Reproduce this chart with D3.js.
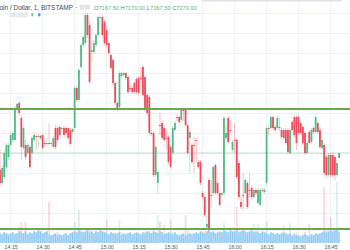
<!DOCTYPE html>
<html>
<head>
<meta charset="utf-8">
<script src="https://cdn.jsdelivr.net/npm/d3@7"></script>
<style>
  html, body { margin: 0; padding: 0; background: #ffffff; }
  svg { display: block; font-family: "Liberation Sans", Arial, sans-serif; }
</style>
</head>
<body>
<div id="dataviz"></div>
<script>
"use strict";

// 1 minute candles, BITSTAMP BTC/USD, first candle at 14:10
var startTime = "14:10";
var opens = [7161.5, 7155, 7158, 7163, 7168, 7174, 7176.5, 7176.5, 7191.5, 7195,
    7187.5, 7172.5, 7174, 7170, 7173, 7170, 7176.5, 7178.5, 7178, 7178.5,
    7179, 7175, 7174.5, 7175, 7174.5, 7173, 7182.5, 7182.5, 7183, 7182,
    7182.5, 7182.5, 7182.5, 7181.5, 7180.5, 7182.5, 7202.5, 7196.5, 7213, 7224,
    7225, 7239, 7234, 7220.5, 7220.5, 7224, 7229, 7237.5, 7238, 7235.5,
    7231.5, 7225, 7219, 7216.5, 7205, 7195, 7193, 7208.5, 7209, 7210,
    7208, 7202.5, 7202.5, 7205, 7207, 7207.5, 7207.5, 7213, 7208, 7199,
    7198, 7180, 7180, 7159, 7155, 7184, 7185, 7182.5, 7177.5, 7178,
    7173, 7170, 7181.5, 7188, 7188, 7186.5, 7191.5, 7191.5, 7184, 7177.5,
    7174, 7174, 7176.5, 7165.5, 7165.5, 7150, 7148, 7133, 7156.5, 7149,
    7150, 7164, 7155, 7150, 7149, 7150, 7177.5, 7187.5, 7181.5, 7171.5,
    7176.5, 7176.5, 7165, 7145.5, 7149, 7150, 7155, 7151.5, 7152.5, 7148,
    7151.5, 7145, 7144, 7151.5, 7150.5, 7155, 7182.5, 7182.5, 7188, 7183,
    7182.5, 7183, 7181.5, 7181.5, 7181.5, 7181.5, 7170, 7185.5, 7188, 7188,
    7188, 7185, 7183, 7180, 7170, 7180.5, 7175.5, 7182.5, 7180.5, 7185,
    7181.5, 7172.5, 7174, 7168, 7159, 7169, 7169, 7168, 7159, 7167.5];
var highs = [7171.5, 7164, 7171.5, 7175, 7175, 7180, 7181, 7193.5, 7195, 7196,
    7189, 7183.5, 7176.5, 7175, 7174, 7178.5, 7180, 7179.5, 7179.5, 7179,
    7179.5, 7176.5, 7177.5, 7185, 7175.5, 7178.5, 7184, 7183.5, 7184, 7183.5,
    7183.5, 7183.5, 7183, 7182.5, 7182.5, 7203.5, 7203.5, 7212.5, 7225, 7229,
    7240, 7240, 7236.5, 7226.5, 7226.5, 7230, 7239, 7239, 7239, 7236.5,
    7232.5, 7226, 7220, 7217.5, 7206, 7196, 7211, 7210.5, 7210.5, 7210.5,
    7209, 7205, 7203.5, 7206, 7208, 7208.5, 7213, 7214, 7209, 7200,
    7199, 7181.5, 7181, 7174, 7161.5, 7190, 7186, 7183.5, 7181.5, 7179,
    7174, 7183.5, 7186, 7189.5, 7189, 7192.5, 7192.5, 7192.5, 7185, 7181.5,
    7175, 7178, 7177.5, 7166.5, 7166.5, 7151, 7149, 7139, 7157.5, 7156.5,
    7164, 7165, 7156, 7151, 7150.5, 7188.5, 7184, 7188.5, 7186.5, 7176.5,
    7185, 7177.5, 7166, 7148, 7160, 7157.5, 7156, 7160, 7153.5, 7152.5,
    7152.5, 7152.5, 7152.5, 7152.5, 7152.5, 7183.5, 7184, 7189, 7189, 7184,
    7188.5, 7187.5, 7182.5, 7182.5, 7182.5, 7182.5, 7182.5, 7186.5, 7189, 7189,
    7189, 7186, 7184, 7181, 7176, 7181.5, 7182.5, 7183.5, 7189, 7186,
    7182.5, 7177.5, 7175, 7169, 7170, 7170, 7170, 7169, 7166.5, 7170];
var lows = [7154, 7154, 7157, 7162, 7166.5, 7173, 7175.5, 7175.5, 7190.5, 7189,
    7166.5, 7171.5, 7166.5, 7169, 7162, 7168.5, 7175.5, 7171.5, 7172.5, 7176.5,
    7171.5, 7173, 7173.5, 7174, 7173.5, 7172, 7172, 7175.5, 7178, 7180.5,
    7178, 7179, 7176.5, 7173.5, 7179.5, 7181.5, 7195.5, 7195.5, 7212, 7223,
    7224, 7227.5, 7204.5, 7215.5, 7219.5, 7223, 7228, 7235.5, 7228, 7224,
    7223, 7219, 7211.5, 7204, 7194, 7190.5, 7192, 7207.5, 7208, 7206.5,
    7199.5, 7200.5, 7199.5, 7199.5, 7199.5, 7199, 7203, 7198, 7190.5, 7189,
    7179, 7178.5, 7158, 7158, 7150, 7179, 7176.5, 7175.5, 7171.5, 7164.5,
    7162, 7169, 7180.5, 7186, 7184.5, 7185.5, 7186, 7183, 7169, 7160,
    7164.5, 7160, 7165.5, 7162, 7154, 7147, 7138, 7132, 7131, 7143,
    7148.5, 7149, 7149, 7143, 7148, 7149, 7176.5, 7174.5, 7180, 7170.5,
    7170, 7157, 7147, 7142, 7141.5, 7149, 7142, 7148, 7147, 7147,
    7149, 7144, 7143, 7150.5, 7149.5, 7154, 7179, 7181.5, 7181.5, 7180.5,
    7181.5, 7181, 7177, 7176.5, 7174, 7169.5, 7169, 7180.5, 7178, 7171.5,
    7179, 7179, 7174, 7169, 7169, 7174, 7174.5, 7179.5, 7179.5, 7179.5,
    7172, 7171.5, 7159, 7157.5, 7158, 7157.5, 7158, 7156.5, 7158, 7167.5];
var closes = [7155, 7162.5, 7170, 7174, 7174, 7179, 7180, 7192.5, 7194.5, 7190,
    7173, 7182.5, 7168, 7174, 7163, 7177.5, 7179, 7178, 7178.5, 7177.5,
    7172.5, 7174.5, 7175, 7174.5, 7175, 7177.5, 7173, 7176.5, 7179, 7182.5,
    7179, 7180, 7177.5, 7174.5, 7182, 7202.5, 7196.5, 7211.5, 7224, 7228,
    7239, 7229, 7205.5, 7221.5, 7225, 7229, 7238, 7238, 7229, 7225,
    7224, 7220, 7212.5, 7205, 7195, 7191.5, 7210, 7210, 7210, 7207.5,
    7200.5, 7202, 7200.5, 7200.5, 7200.5, 7200, 7207, 7199, 7191.5, 7190,
    7180, 7179.5, 7159, 7173, 7160.5, 7183.5, 7177.5, 7176.5, 7177, 7165.5,
    7163, 7182.5, 7185, 7187.5, 7185.5, 7191.5, 7191, 7184, 7170, 7180.5,
    7165.5, 7173.5, 7176, 7163, 7155, 7148, 7139, 7134.5, 7131.5, 7148.5,
    7163, 7150, 7150, 7144, 7150, 7187.5, 7180, 7175.5, 7181, 7175.5,
    7176, 7158, 7148, 7143, 7148.5, 7156.5, 7143, 7151, 7148, 7151.5,
    7150, 7151.5, 7151.5, 7151, 7151.5, 7182.5, 7182, 7188, 7182.5, 7181.5,
    7187.5, 7182.5, 7178, 7177.5, 7175, 7170.5, 7181.5, 7181.5, 7179, 7175,
    7180, 7180, 7175, 7170, 7175, 7175, 7181.5, 7180.5, 7188, 7180.5,
    7173, 7176.5, 7160, 7159, 7169, 7159, 7159, 7159, 7165, 7170];
var volumes = [6, 8, 9, 7, 6, 8, 7, 10, 9, 16,
    21, 9, 21, 7, 10, 8, 6, 5, 4, 5,
    9, 5, 4, 41, 5, 6, 10, 11, 6, 5,
    6, 5, 8, 9, 6, 21, 10, 33, 12, 9,
    11, 10, 14, 8, 7, 9, 10, 6, 9, 11,
    23, 8, 9, 10, 11, 9, 23, 6, 5, 6,
    8, 5, 6, 6, 7, 6, 8, 10, 11, 9,
    12, 6, 13, 11, 28, 22, 9, 18, 6, 10,
    23, 11, 8, 5, 6, 9, 5, 28, 12, 10,
    9, 6, 5, 7, 11, 9, 12, 10, 38, 9,
    11, 10, 8, 9, 5, 20, 8, 11, 6, 8,
    7, 36, 12, 9, 8, 8, 10, 6, 8, 19,
    6, 19, 9, 5, 8, 21, 7, 9, 10, 6,
    8, 6, 9, 17, 10, 9, 20, 8, 10, 11,
    8, 7, 9, 11, 8, 19, 9, 6, 10, 8,
    10, 9, 56, 14, 12, 26, 11, 10, 61, 5];
// blue indicator in the lower pane
var blueVol = [10, 9, 11, 10, 9, 10, 11, 9, 10, 12,
    11, 10, 12, 9, 11, 10, 12, 11, 13, 12,
    10, 11, 12, 9, 8, 9, 10, 8, 9, 8,
    9, 10, 8, 10, 11, 12, 11, 13, 12, 11,
    12, 13, 11, 12, 10, 12, 11, 13, 12, 11,
    10, 9, 11, 10, 9, 10, 11, 9, 10, 9,
    10, 11, 9, 10, 11, 10, 9, 11, 10, 12,
    11, 10, 12, 11, 10, 12, 11, 9, 10, 11,
    10, 9, 11, 9, 8, 9, 10, 8, 9, 10,
    9, 10, 11, 10, 12, 11, 10, 12, 13, 11,
    12, 10, 11, 12, 11, 13, 12, 11, 13, 12,
    12, 13, 11, 12, 13, 12, 11, 12, 13, 11,
    12, 11, 10, 12, 11, 10, 9, 11, 10, 9,
    10, 9, 10, 11, 10, 9, 10, 8, 9, 8,
    8, 7, 8, 9, 8, 7, 9, 8, 10, 9,
    10, 11, 12, 11, 12, 13, 12, 13, 14, 12];
// drawn horizontal levels
var levels = [7192, 7132];
var lastPrice = 7170;
var priceTicks = [7140, 7150, 7160, 7170, 7180, 7190, 7200, 7210, 7220, 7230, 7240];
var titleText = "Bitcoin / Dollar, 1, BITSTAMP";
var ohlcLabels = ["O", "H", "L", "C"];
var ohlcValues = ["7167.50", "7170.00", "7167.50", "7170.00"];

var width = 350;
var height = 250;
var upColor = "#53b987";
var downColor = "#eb4d5c";

var parseTime = d3.timeParse("%H:%M");
var t0 = parseTime(startTime);
var data = opens.map(function (o, i) {
    return {
        time: d3.timeMinute.offset(t0, i),
        open: o, high: highs[i], low: lows[i], close: closes[i],
        volume: volumes[i], blue: blueVol[i]
    };
});

var svg = d3.select("#dataviz").append("svg")
    .attr("width", width)
    .attr("height", height);

// Scales
var xScale = d3.scaleTime()
    .domain([t0, d3.timeMinute.offset(t0, 164)])
    .range([0, 349.8]);
var yScale = d3.scaleLinear().domain([7140, 7240]).range([213, 13]);
var vScale = d3.scaleLinear().domain([0, 65]).range([243, 178]);

var bodyW = 1.8;

// grid
var timeTicks = xScale.ticks(d3.timeMinute.every(15));
svg.append("g").selectAll("line").data(priceTicks).enter().append("line")
    .attr("x1", 0).attr("x2", width)
    .attr("y1", function (d) { return Math.round(yScale(d)) + 0.5; })
    .attr("y2", function (d) { return Math.round(yScale(d)) + 0.5; })
    .attr("stroke", "#edf0f4").attr("stroke-width", 1);
svg.append("g").selectAll("line").data(timeTicks).enter().append("line")
    .attr("x1", function (d) { return xScale(d); })
    .attr("x2", function (d) { return xScale(d); })
    .attr("y1", 0).attr("y2", 243)
    .attr("stroke", "#edf0f4").attr("stroke-width", 1);

// top toolbar strip
svg.append("rect").attr("x", 202).attr("y", 0).attr("width", 140).attr("height", 1.5)
    .attr("fill", "#dfe2e8");

// volume bars
svg.append("g").selectAll("rect").data(data).enter().append("rect")
    .attr("x", function (d) { return xScale(d.time) - bodyW / 2; })
    .attr("y", function (d) { return vScale(d.volume); })
    .attr("width", bodyW)
    .attr("height", function (d) { return vScale(0) - vScale(d.volume); })
    .attr("fill", function (d) { return d.close >= d.open ? upColor : downColor; })
    .attr("opacity", 0.22);

// blue indicator
var blueArea = d3.area()
    .x(function (d) { return xScale(d.time); })
    .y0(vScale(0))
    .y1(function (d) { return vScale(d.blue); })
    .curve(d3.curveStep);
svg.append("path").datum(data)
    .attr("d", blueArea)
    .attr("fill", "#b5dcf7");
svg.append("g").selectAll("rect").data(data).enter().append("rect")
    .attr("x", function (d) { return xScale(d.time) - 0.5; })
    .attr("y", function (d) { return vScale(d.blue - 1); })
    .attr("width", 1)
    .attr("height", function (d) { return vScale(0) - vScale(d.blue - 1); })
    .attr("fill", "#93c9ef");

// last price line
svg.append("line")
    .attr("x1", 0).attr("x2", width)
    .attr("y1", yScale(lastPrice)).attr("y2", yScale(lastPrice))
    .attr("stroke", "#bfe0cf").attr("stroke-width", 1);

// candles
var candles = svg.append("g").selectAll("g").data(data).enter().append("g");
candles.append("line")
    .attr("x1", function (d) { return xScale(d.time); })
    .attr("x2", function (d) { return xScale(d.time); })
    .attr("y1", function (d) { return yScale(d.high); })
    .attr("y2", function (d) { return yScale(d.low); })
    .attr("stroke", function (d) { return d.close >= d.open ? upColor : downColor; })
    .attr("stroke-width", 0.6)
    .attr("opacity", 0.6);
candles.append("rect")
    .attr("x", function (d) { return xScale(d.time) - bodyW / 2; })
    .attr("y", function (d) { return yScale(Math.max(d.open, d.close)); })
    .attr("width", bodyW)
    .attr("height", function (d) {
        return Math.max(0.8, Math.abs(yScale(d.open) - yScale(d.close)));
    })
    .attr("fill", function (d) { return d.close >= d.open ? upColor : downColor; });

// support / resistance lines
svg.append("g").selectAll("line").data(levels).enter().append("line")
    .attr("x1", 0).attr("x2", width)
    .attr("y1", function (d) { return yScale(d); })
    .attr("y2", function (d) { return yScale(d); })
    .attr("stroke", "#6aa84f").attr("stroke-width", 2);

// time axis
svg.append("rect").attr("x", 0).attr("y", 243).attr("width", width).attr("height", 7)
    .attr("fill", "#ffffff");
var xAxis = d3.axisBottom(xScale)
    .ticks(d3.timeMinute.every(15))
    .tickFormat(d3.timeFormat("%H:%M"))
    .tickSize(0)
    .tickPadding(0);
var axisG = svg.append("g")
    .attr("transform", "translate(0,243)")
    .call(xAxis);
axisG.select(".domain").remove();
axisG.selectAll("text")
    .attr("y", 6)
    .attr("dy", 0)
    .attr("font-size", 5.3)
    .attr("font-family", "Liberation Sans, Arial, sans-serif")
    .attr("fill", "#555");

// header
svg.append("text")
    .attr("x", 73).attr("y", 9.5)
    .attr("text-anchor", "end")
    .attr("font-size", 6.5)
    .attr("fill", "#4a4a4a")
    .text(titleText);
svg.append("text")
    .attr("x", 75).attr("y", 9)
    .attr("font-size", 5)
    .attr("fill", "#888")
    .text("\u2013");
svg.append("g").selectAll("rect").data([0, 1]).enter().append("rect")
    .attr("x", function (d) { return 80 + d * 5.5; }).attr("y", 5)
    .attr("width", 4).attr("height", 4)
    .attr("fill", "#e6e8ec").attr("stroke", "#cfd3da").attr("stroke-width", 0.5);
var ohlc = svg.append("text")
    .attr("x", 94).attr("y", 9.5)
    .attr("font-size", 5.7);
ohlcLabels.forEach(function (lab, i) {
    ohlc.append("tspan").attr("fill", "#777").text((i > 0 ? " " : "") + lab);
    ohlc.append("tspan").attr("fill", upColor).text(ohlcValues[i]);
});

// second header row icons
svg.append("g").selectAll("rect").data([0, 1, 2, 3]).enter().append("rect")
    .attr("x", function (d) { return 10 + d * 4.6; }).attr("y", 13)
    .attr("width", 3.6).attr("height", 3.6)
    .attr("fill", "#eceef2").attr("stroke", "#cfd3da").attr("stroke-width", 0.5);
svg.append("rect").attr("x", 31.5).attr("y", 13.3).attr("width", 1.6).attr("height", 3)
    .attr("fill", upColor);
svg.append("rect").attr("x", 38).attr("y", 13.3).attr("width", 2.4).attr("height", 3)
    .attr("fill", "#5b9bd5");
</script>
</body>
</html>
